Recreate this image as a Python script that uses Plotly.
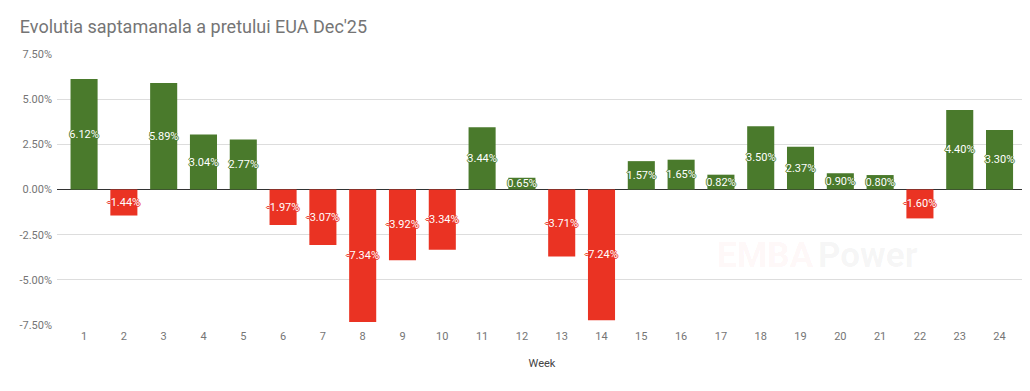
import plotly.graph_objects as go

weeks = list(range(1, 25))
changes = [6.12, -1.44, 5.89, 3.04, 2.77, -1.97, -3.07, -7.34, -3.92, -3.34,
           3.44, 0.65, -3.71, -7.24, 1.57, 1.65, 0.82, 3.50, 2.37, 0.90,
           0.80, -1.60, 4.40, 3.30]
y_ticks = [-7.5, -5.0, -2.5, 0.0, 2.5, 5.0, 7.5]

GREEN = "#4a7a2c"
RED = "#ea3323"

fig = go.Figure()
for positive, color in [(True, GREEN), (False, RED)]:
    xs = [w for w, v in zip(weeks, changes) if (v >= 0) == positive]
    ys = [v for v in changes if (v >= 0) == positive]
    halo = f"1px 0 0 {color}, -1px 0 0 {color}, 0 1px 0 {color}, 0 -1px 0 {color}"
    fig.add_trace(go.Bar(
        x=xs, y=ys, marker=dict(color=color, line=dict(width=0)),
        width=0.68, text=[f"{v:.2f}%" for v in ys], textposition="inside",
        insidetextanchor="middle", constraintext="none", textangle=0,
        textfont=dict(family="Roboto", size=11, color="white", shadow=halo),
        hoverinfo="x+y",
    ))

fig.add_annotation(x=0.782, y=0.258, xref="paper", yref="paper", text="<b>EMBA</b>",
                   showarrow=False, font=dict(family="Roboto", size=35,
                                              color="rgba(234,51,35,0.05)"),
                   xanchor="right", yanchor="middle")
fig.add_annotation(x=0.782, y=0.258, xref="paper", yref="paper", text="<b>Power</b>",
                   showarrow=False, font=dict(family="Roboto", size=35,
                                              color="rgba(120,120,120,0.07)"),
                   xanchor="left", yanchor="middle")

fig.update_layout(
    width=1030, height=391,
    margin=dict(l=47, r=11, t=46, b=74),
    paper_bgcolor="white", plot_bgcolor="white",
    title=dict(text="Evolutia saptamanala a pretului EUA Dec'25", x=0.0115, xanchor="left",
               y=0.952, yanchor="middle",
               font=dict(family="Roboto", size=18, color="#757575")),
    showlegend=False,
    barmode="overlay",
    xaxis=dict(tickmode="array", tickvals=weeks, ticktext=[str(w) for w in weeks],
               range=[0.32, 24.69], showgrid=False, zeroline=False, showline=False,
               ticks="", ticklabelstandoff=3,
               tickfont=dict(family="Roboto", size=11, color="#757575"),
               title=dict(text="Week", font=dict(family="Roboto", size=11, color="#444444"), standoff=17)),
    yaxis=dict(tickmode="array", tickvals=y_ticks, ticktext=[f"{t:.2f}%" for t in y_ticks],
               range=[-7.5, 7.5], showgrid=True, gridcolor="#dddddd", gridwidth=1,
               zeroline=True, zerolinecolor="#333333", zerolinewidth=1,
               tickfont=dict(family="Roboto", size=11, color="#757575"), ticks="",
               ticklabelstandoff=4),
)

fig.write_html("out.html")
